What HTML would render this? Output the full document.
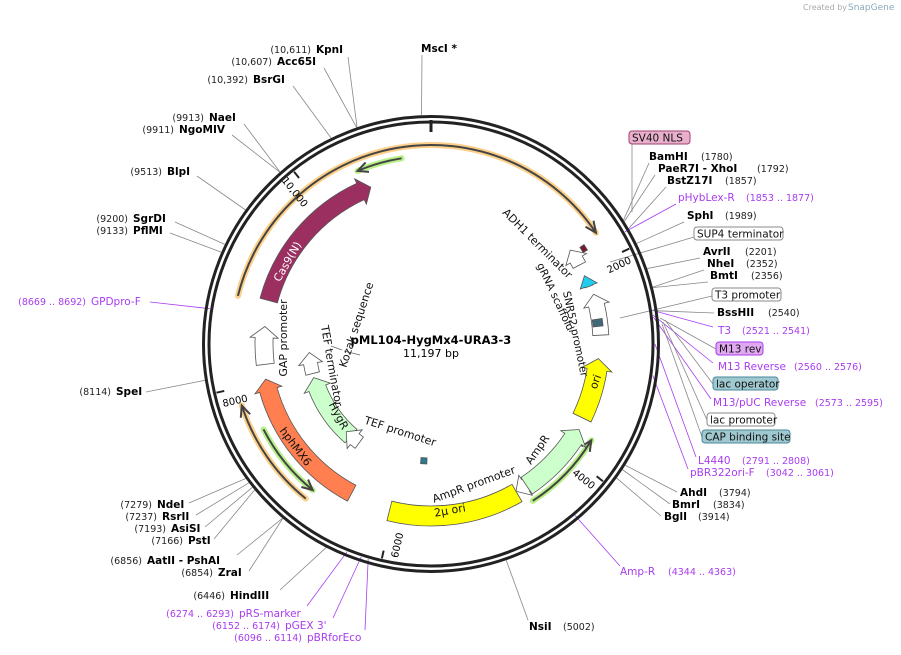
<!DOCTYPE html>
<html><head><meta charset="utf-8"><style>
html,body{margin:0;padding:0;background:#fff;}
svg{display:block;font-family:"DejaVu Sans","Liberation Sans",sans-serif;}
.b{font-weight:bold;font-size:10.5px;fill:#000}
.n{font-size:9.5px;fill:#222}
.p{font-size:10.5px;fill:#a83cf0}
.pn{font-size:9.5px;fill:#a83cf0}
.f{font-size:10.5px;fill:#111}
</style></head><body>
<svg id="s" width="901" height="655" viewBox="0 0 901 655" xmlns="http://www.w3.org/2000/svg">
<text x="803" y="10" font-size="8" fill="#aaa">Created by</text><text x="848" y="10" font-size="9" fill="#8ab">SnapGene</text>
<g id="lines" stroke="#888" stroke-width="0.8" fill="none"></g>
<g id="feat"></g>
<circle cx="431" cy="344" r="227.5" fill="none" stroke="#222" stroke-width="3"/>
<circle cx="431" cy="344" r="222" fill="none" stroke="#222" stroke-width="3"/>
<line x1="431" y1="120" x2="431" y2="132" stroke="#222" stroke-width="3"/>
<g id="ticks"></g>
<text x="431" y="344" text-anchor="middle" font-size="11.5" font-weight="bold">pML104-HygMx4-URA3-3</text>
<text x="431" y="357" text-anchor="middle" font-size="11">11,197 bp</text>
<g id="lab"></g>
</svg>
<script>
const NS="http://www.w3.org/2000/svg",CX=431,CY=344,L=11197;
function P(a,r){a=a*Math.PI/180;return [CX+r*Math.sin(a),CY-r*Math.cos(a)];}
function el(p,t,at,txt){const e=document.createElementNS(NS,t);for(const k in at)e.setAttribute(k,at[k]);if(txt!==undefined)e.textContent=txt;document.getElementById(p).appendChild(e);return e;}
function arcP(a1,a2,r){const s=P(a1,r),e=P(a2,r);const lg=Math.abs(a2-a1)>180?1:0,sw=a2>a1?1:0;return `M${s[0]},${s[1]} A${r},${r} 0 ${lg} ${sw} ${e[0]},${e[1]}`;}
function band(a1,a2,r,w,fill,arrow,stroke){
 const dir=a2>a1?1:-1;const ah=arrow?(7*180/(Math.PI*r))*dir*1.6:0;const b=a2-ah;
 const ro=r+w/2,ri=r-w/2;
 let d=`M${P(a1,ro)} `;const e1=P(b,ro);
 d+=`A${ro},${ro} 0 ${Math.abs(b-a1)>180?1:0} ${dir>0?1:0} ${e1} `;
 if(arrow){d+=`L${P(b,ro+5)} L${P(a2,r)} L${P(b,ri-5)} `;}
 d+=`L${P(b,ri)} A${ri},${ri} 0 ${Math.abs(b-a1)>180?1:0} ${dir>0?0:1} ${P(a1,ri)} Z`;
 el('feat','path',{d:d.replace(/,/g,' '),fill:fill,stroke:stroke||'#555','stroke-width':0.8});
}
function glowArc(a1,a2,r,glow){
 el('feat','path',{d:arcP(a1,a2,r),stroke:glow,'stroke-width':6,fill:'none','stroke-linecap':'round'});
 el('feat','path',{d:arcP(a1,a2,r),stroke:'#444','stroke-width':2,fill:'none'});
 const dir=a2>a1?1:-1;const t=P(a2,r),b=a2-dir*3.2;
 el('feat','path',{d:`M${P(b,r+5)} L${t} L${P(b,r-5)}`.replace(/,/g,' '),stroke:'#444','stroke-width':2,fill:'none'});
}
glowArc(284,416,199,'#fcd08a');
glowArc(219,252,199,'#fcd08a');
glowArc(351,337,188,'#b8f08a');
glowArc(243,219,188,'#b8f08a');
glowArc(147,121,187,'#b8f08a');
band(285,339,168,18,'#9b3060',true);
band(263,276,167,18,'#fff',true);
band(208,258,169,18,'#ff7f50',true);
band(221,254,122,18,'#ccffcc',true);
band(256,266,122,14,'#fff',true);
band(216,224,122,14,'#fff',true);
band(150,194,172,20,'#ffff00',false);
band(145,150,170,14,'#fff',true);
band(146,120,171,20,'#ccffcc',true);
band(116,95,168,20,'#ffff00',true);
band(87,73,170,16,'#fff',true);
band(70,66,168,8,'#22ccee',true);
band(62,56,168,14,'#fff',true);
band(59,57,180,5,'#7a1a30',false);
band(84,81.5,168,10,'#406878',false);
band(182,185,117,6,'#2a7a90',false);
[[2000,'2000'],[4000,'4000'],[6000,'6000'],[8000,'8000'],[10000,'10,000']].forEach(([p,t])=>{
 const a=p/L*360;const s=P(a,220),e=P(a,212);el('ticks','line',{x1:s[0],y1:s[1],x2:e[0],y2:e[1],stroke:'#222','stroke-width':2});
 const q=P(a+ (a<180?3:-3.5),204);let rot=a<180?a-90:a+90;
 el('ticks','text',{x:q[0],y:q[1],'font-size':10,'text-anchor':'middle','dominant-baseline':'middle',transform:`rotate(${rot} ${q[0]} ${q[1]})`},t);
});
const labs=[
[1780,'BamHI','(1780)',649,701,160,649,163,'b'],
[1792,'PaeR7I   - XhoI','(1792)',658,757,172,655,175,'b'],
[1857,'BstZ17I','(1857)',667,725,184,666,187,'b'],
[1865,'pHybLex-R','(1853 .. 1877)',678,746,201,676,204,'p'],
[1989,'SphI','(1989)',687,725,219,684,222,'b'],
[2201,'AvrII','(2201)',703,745,255,700,258,'b'],
[2352,'NheI','(2352)',707,746,267,704,270,'b'],
[2356,'BmtI','(2356)',710,751,279,708,282,'b'],
[2540,'BssHII','(2540)',717,768,316,714,313,'b'],
[2531,'T3','(2521 .. 2541)',718,742,334,713,327,'p'],
[2568,'M13 Reverse','(2560 .. 2576)',718,794,370,713,363,'p'],
[2584,'M13/pUC Reverse','(2573 .. 2595)',713,815,406,711,399,'p'],
[2800,'L4440','(2791 .. 2808)',698,742,464,696,457,'p'],
[3051,'pBR322ori-F','(3042 .. 3061)',690,766,476,688,469,'p'],
[3794,'AhdI','(3794)',680,719,496,677,492,'b'],
[3834,'BmrI','(3834)',672,713,508,670,504,'b'],
[3914,'BglI','(3914)',664,698,520,661,516,'b'],
[4353,'Amp-R','(4344 .. 4363)',620,668,575,620,566,'p'],
[5002,'NsiI','(5002)',529,563,630,528,620,'b'],
];
labs.forEach(l=>{
 const a=l[0]/L*360,s=P(a,l[8]=='p'?224:229);
 el('lines','line',{x1:s[0],y1:s[1],x2:l[6],y2:l[7],stroke:l[8]=='p'?'#a83cf0':'#888'});
 el('lab','text',{x:l[3],y:l[5],class:l[8]=='p'?'p':'b','xml:space':'preserve'},l[1]);
 el('lab','text',{x:l[4],y:l[5],class:l[8]=='p'?'pn':'n'},l[2]);
});
const left=[
[11123,'',0,'MscI *',421,52,422,55,'b'],
[10611,'(10,611)',269,'KpnI',316,53,348,57,'b'],
[10607,'(10,607)',231,'Acc65I',277,65,324,68,'b'],
[10392,'(10,392)',208,'BsrGI',253,83,293,86,'b'],
[9913,'(9913)',172,'NaeI',209,121,244,124,'b'],
[9911,'(9911)',145,'NgoMIV',179,133,232,135,'b'],
[9513,'(9513)',130,'BlpI',167,175,197,176,'b'],
[9200,'(9200)',96,'SgrDI',133,222,175,222,'b'],
[9133,'(9133)',96,'PflMI',133,234,170,233,'b'],
[8680,'(8669 .. 8692)',18,'GPDpro-F',91,305,150,302,'p'],
[8114,'(8114)',80,'SpeI',116,395,146,392,'b'],
[7279,'(7279)',120,'NdeI',157,508,189,503,'b'],
[7237,'(7237)',125,'RsrII',162,520,196,515,'b'],
[7193,'(7193)',134,'AsiSI',171,532,205,527,'b'],
[7166,'(7166)',151,'PstI',188,544,214,539,'b'],
[6856,'(6856)',110,'AatII   - PshAI',147,564,237,555,'b'],
[6854,'(6854)',181,'ZraI',218,576,249,571,'b'],
[6446,'(6446)',195,'HindIII',230,599,280,590,'b'],
[6283,'(6274 .. 6293)',167,'pRS-marker',239,617,307,606,'p'],
[6163,"(6152 .. 6174)",213,"pGEX 3'",285,629,333,618,'p'],
[6105,'(6096 .. 6114)',235,'pBRforEco',307,641,365,630,'p'],
];
left.forEach(l=>{
 const a=l[0]/L*360,s=P(a,l[8]=='p'?224:229);
 el('lines','line',{x1:s[0],y1:s[1],x2:l[6],y2:l[7],stroke:l[8]=='p'?'#a83cf0':'#888'});
 el('lab','text',{x:l[4],y:l[5],class:l[8]=='p'?'p':'b','xml:space':'preserve'},l[3]);
 if(l[1])el('lab','text',{x:l[4]-5,y:l[5],'text-anchor':'end',class:l[8]=='p'?'pn':'n'},l[1]);
});
const boxes=[['SV40 NLS',629,131,61,'#e8b0cc','#a04070',632,144,632,212],
['SUP4 terminator',694,227,89,'#fff','#888',694,237,610,262],
['T3 promoter',712,288,69,'#fff','#888',712,296,620,318],
['M13 rev',716,342,47,'#e0a8f0','#a83cf0',716,349,660,318],
['lac operator',713,377,65,'#9fc8d0','#4a8898',713,384,665,320],
['lac promoter',707,413,68,'#fff','#888',707,420,663,322],
['CAP binding site',702,430,88,'#9fc8d0','#4a8898',702,437,662,324]];
boxes.forEach(b=>{
 el('lines','line',{x1:b[6],y1:b[7],x2:b[8],y2:b[9],stroke:'#888'});
 el('lab','rect',{x:b[1],y:b[2],width:b[3],height:13,rx:3,fill:b[4],stroke:b[5]});
 el('lab','text',{x:b[1]+3,y:b[2]+10.5,class:'f'},b[0]);
});
el('lines','line',{x1:331,y1:346,x2:342,y2:350,stroke:'#666'});
el('lines','line',{x1:344,y1:351,x2:360,y2:355,stroke:'#666'});
function ft(x,y,rot,t,c,fs){el('lab','text',{x:x,y:y,'font-size':fs||11,fill:c||'#111','text-anchor':'middle','dominant-baseline':'middle',transform:`rotate(${rot} ${x} ${y})`},t);}
ft(288,262,-60,'Cas9(N)','#fff');
ft(284,338,-90,'GAP promoter');
ft(357,325,-72,'Kozak sequence');
ft(331,366,80,'TEF terminator');
ft(295,447,53,'hphMX6');
ft(338,416,62,'HygR');
ft(400,432,18,'TEF promoter');
ft(474,485,-20,'AmpR promoter');
ft(450,511,-10,'2μ ori');
ft(538,450,-55,'AmpR');
ft(596,382,-70,'ori');
ft(575,334,78,'SNR52 promoter','#111',10.5);
ft(555,297,65,'gRNA scaffold','#111',10.5);
ft(537,244,45,'ADH1 terminator');
</script>
</body></html>
